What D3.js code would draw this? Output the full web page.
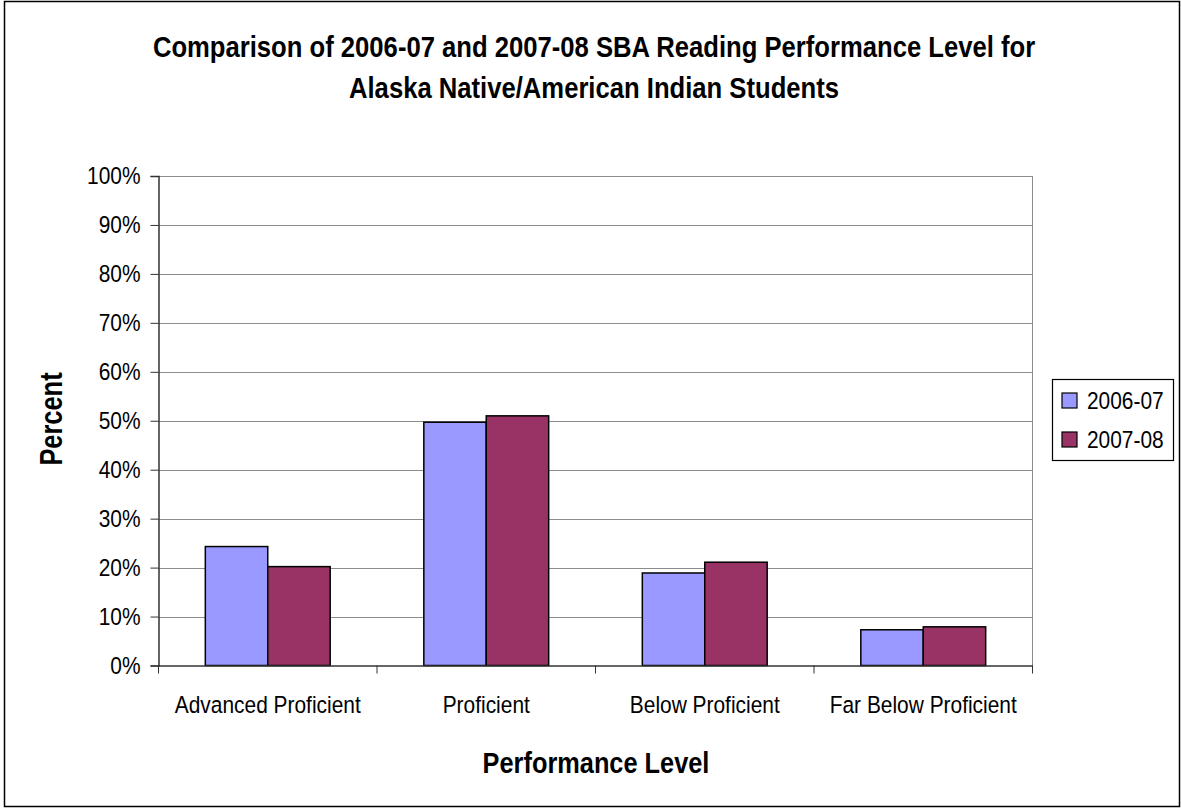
<!DOCTYPE html>
<html lang="en">
  <head>
    <meta charset="utf-8">
    <title>SBA Reading Performance Level</title>
    <script src="https://d3js.org/d3.v7.min.js"></script>
    <style>
      body { margin: 0; background: #fff; }
      svg text { font-family: "Liberation Sans", Arial, sans-serif; fill: #000; }
    </style>
  </head>
  <body>
    <div id="main"></div>
    <script>
      var categories = ["Advanced Proficient", "Proficient", "Below Proficient", "Far Below Proficient"];
      var seriesNames = ["2006-07", "2007-08"];
      var values0607 = [24.3, 49.7, 18.9, 7.3];
      var values0708 = [20.2, 51.0, 21.1, 7.9];
      var yTicks = [0, 10, 20, 30, 40, 50, 60, 70, 80, 90, 100];
      var colors = ["#9999ff", "#993366"];

      var width = 1181, height = 808;
      var plotLeft = 158.5, plotRight = 1032.5, plotTop = 176, plotBottom = 665.5;
      var narrowK = 0.89, narrowBold = 0.855;//horizontal squeeze to look like Arial Narrow

      // squeeze text horizontally, keeping its anchor x in place
      function narrow(sel, k) {
        sel.each(function() {
          var t = d3.select(this);
          var x = +(t.attr("x") || 0);
          t.attr("x", x / k).attr("transform", "scale(" + k + ",1)");
        });
      }

      var svg = d3.select("#main").append("svg")
        .attr("width", width)
        .attr("height", height);

      // chart frame
      svg.append("rect")
        .attr("x", 4.5).attr("y", 1.5)
        .attr("width", 1175).attr("height", 805)
        .attr("fill", "#fff").attr("stroke", "#000").attr("stroke-width", 1.5);

      var y = d3.scaleLinear().domain([0, 100]).range([plotBottom, plotTop]);
      var x = d3.scaleBand().domain(categories).range([plotLeft, plotRight]);
      var xs = d3.scaleBand().domain(seriesNames).range([0, x.bandwidth()])
        .paddingInner(0).paddingOuter(0.75);

      // gridlines
      svg.append("g").selectAll("line").data(yTicks.slice(1)).enter().append("line")
        .attr("x1", plotLeft).attr("x2", plotRight)
        .attr("y1", function(d) { return Math.round(y(d)) + 0.5; })
        .attr("y2", function(d) { return Math.round(y(d)) + 0.5; })
        .attr("stroke", "#8c8c8c").attr("stroke-width", 1);

      // right border of plot area
      svg.append("line")
        .attr("x1", plotRight).attr("x2", plotRight).attr("y1", plotTop).attr("y2", plotBottom)
        .attr("stroke", "#8c8c8c");

      // bars
      var rows = categories.map(function(c, i) {
        return [{ cat: c, s: seriesNames[0], v: values0607[i] }, { cat: c, s: seriesNames[1], v: values0708[i] }];
      });
      svg.append("g").selectAll("g").data(rows).enter().append("g")
        .attr("transform", function(d) { return "translate(" + x(d[0].cat) + ",0)"; })
        .selectAll("rect").data(function(d) { return d; }).enter().append("rect")
          .attr("x", function(d) { return xs(d.s); })
          .attr("y", function(d) { return y(d.v); })
          .attr("width", xs.bandwidth())
          .attr("height", function(d) { return y(0) - y(d.v); })
          .attr("fill", function(d, i) { return colors[i]; })
          .attr("stroke", "#000").attr("stroke-width", 1.5);

      // y axis
      var yAxis = d3.axisLeft(y).tickValues(yTicks).tickSize(8).tickPadding(10)
        .tickFormat(function(d) { return d + "%"; });
      var gy = svg.append("g").attr("transform", "translate(" + plotLeft + ",0)").call(yAxis);
      gy.select(".domain").attr("stroke", "#333").attr("stroke-width", 1.5);
      gy.selectAll(".tick line").attr("stroke", "#333");
      gy.selectAll("text").style("font-size", "23.5px").call(narrow, narrowK);

      // x axis
      var xAxis = d3.axisBottom(x).tickSize(0).tickPadding(31);
      var gx = svg.append("g").attr("transform", "translate(0," + plotBottom + ")").call(xAxis);
      gx.select(".domain").attr("stroke", "#333").attr("stroke-width", 1.5);
      gx.selectAll("text").style("font-size", "23.5px").call(narrow, narrowK);
      gx.selectAll("line.sep").data(d3.range(categories.length + 1)).enter().append("line")
        .attr("class", "sep")
        .attr("x1", function(i) { return plotLeft + i * x.step(); })
        .attr("x2", function(i) { return plotLeft + i * x.step(); })
        .attr("y1", 0).attr("y2", 8)
        .attr("stroke", "#333");

      // title
      var title = svg.append("g").attr("transform", "translate(594,0)");
      title.selectAll("text")
        .data(["Comparison of 2006-07 and 2007-08 SBA Reading Performance Level for",
               "Alaska Native/American Indian Students"])
        .enter().append("text")
          .attr("text-anchor", "middle")
          .attr("y", function(d, i) { return 57 + i * 41; })
          .style("font-size", "30px").style("font-weight", "bold")
          .text(function(d) { return d; })
          .call(narrow, narrowBold);

      // axis titles
      svg.append("g").attr("transform", "translate(596,773)")
        .append("text").attr("text-anchor", "middle")
        .style("font-size", "30px").style("font-weight", "bold")
        .text("Performance Level")
        .call(narrow, 0.845);
      svg.append("g").attr("transform", "translate(62,419) rotate(-90)")
        .append("text").attr("text-anchor", "middle")
        .style("font-size", "31px").style("font-weight", "bold")
        .text("Percent")
        .call(narrow, 0.82);

      // legend
      var lg = svg.append("g");
      lg.append("rect").attr("x", 1052.5).attr("y", 379.5).attr("width", 121).attr("height", 81)
        .attr("fill", "#fff").attr("stroke", "#000").attr("stroke-width", 1.2);
      var item = lg.selectAll("g").data(seriesNames).enter().append("g")
        .attr("transform", function(d, i) { return "translate(1062," + (393 + i * 39) + ")"; });
      item.append("rect").attr("width", 15).attr("height", 15)
        .attr("fill", function(d, i) { return colors[i]; })
        .attr("stroke", "#000").attr("stroke-width", 1.2);
      item.append("text").attr("x", 25).attr("y", 15.5)
        .style("font-size", "23.5px")
        .text(function(d) { return d; })
        .call(narrow, narrowK);
    </script>
  </body>
</html>
